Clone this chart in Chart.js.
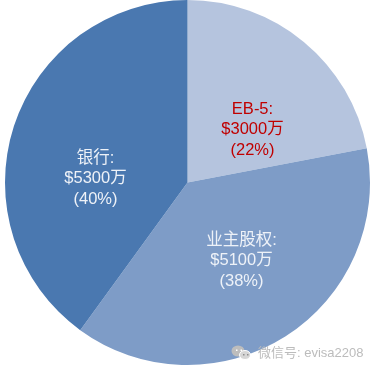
<!DOCTYPE html>
<html>
<head>
<meta charset="utf-8">
<style>
html, body { margin: 0; padding: 0; background: #fff; overflow: hidden; }
#chart { display: block; }
</style>
<script src="https://cdn.jsdelivr.net/npm/chart.js@4"></script>
</head>
<body>
<canvas id="chart" width="374" height="373"></canvas>
<script>
const categories = ['EB-5', '业主股权', '银行'];
const amounts = ['$3000万', '$5100万', '$5300万'];
const shares = [22, 38, 40];
const sliceColors = ['#b5c4de', '#7e9cc7', '#4a78b0'];
const textColors = ['#c00000', '#eef2f8', '#eef2f8'];
// label centre, relative to the pie centre
const labelOffsets = [[65, -53], [54, 78], [-92, -4]];
const FONT = '"Liberation Sans", "Noto Sans CJK SC", sans-serif';

const sliceLabels = {
    id: 'sliceLabels',
    afterDatasetsDraw(chart) {
        const ctx = chart.ctx;
        const arc = chart.getDatasetMeta(0).data[0];
        ctx.save();
        ctx.textAlign = 'center';
        ctx.textBaseline = 'middle';
        ctx.font = '16.5px ' + FONT;
        categories.forEach((name, i) => {
            const x = arc.x + labelOffsets[i][0];
            const y = arc.y + labelOffsets[i][1];
            ctx.fillStyle = textColors[i];
            ctx.fillText(name + ':', x, y - 20.5);
            ctx.fillText(amounts[i], x, y);
            ctx.fillText('(' + shares[i] + '%)', x, y + 20.5);
        });
        ctx.restore();
    }
};

const watermark = {
    id: 'watermark',
    afterDraw(chart) {
        const ctx = chart.ctx;
        ctx.save();
        // the two chat bubbles
        ctx.fillStyle = '#bdbdbd';
        ctx.beginPath();
        ctx.ellipse(238, 351, 6.5, 5.5, 0, 0, Math.PI * 2);
        ctx.fill();
        ctx.strokeStyle = '#ffffff';
        ctx.lineWidth = 1;
        ctx.fillStyle = '#d6d6d6';
        ctx.beginPath();
        ctx.ellipse(245, 355, 5.5, 4.5, 0, 0, Math.PI * 2);
        ctx.fill();
        ctx.stroke();
        ctx.fillStyle = '#ffffff';
        [[236, 349.5], [240.5, 349.5]].forEach(p => ctx.fillRect(p[0], p[1], 1.5, 1.5));
        ctx.fillStyle = '#8f8f8f';
        [[243, 354], [247, 354]].forEach(p => ctx.fillRect(p[0], p[1], 1.5, 1.5));
        ctx.font = '13px ' + FONT;
        ctx.textBaseline = 'middle';
        ctx.fillStyle = '#bcbcbc';
        ctx.fillText('微信号: evisa2208', 258, 353);
        ctx.restore();
    }
};

new Chart(document.getElementById('chart').getContext('2d'), {
    type: 'pie',
    data: {
        labels: categories,
        datasets: [{
            data: shares,
            backgroundColor: sliceColors,
            borderWidth: 0
        }]
    },
    options: {
        responsive: false,
        animation: false,
        layout: { padding: { left: 1, right: 0, top: 0, bottom: 8 } },
        plugins: {
            legend: { display: false },
            tooltip: { enabled: false }
        }
    },
    plugins: [sliceLabels, watermark]
});
</script>
</body>
</html>
